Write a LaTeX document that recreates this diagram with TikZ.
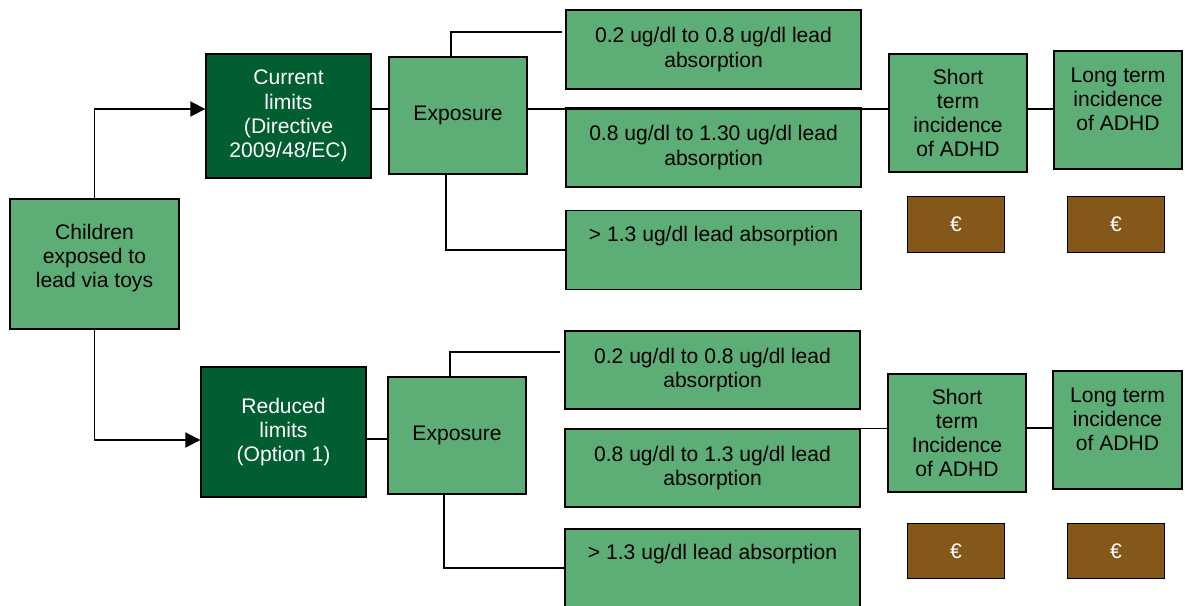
\documentclass[tikz,border=0pt]{standalone}
\usepackage{fontspec}
\setmainfont{Liberation Sans}
\usetikzlibrary{arrows.meta}
\definecolor{leafgreen}{RGB}{93,173,118}
\definecolor{darkgreen}{RGB}{0,94,48}
\definecolor{costbrown}{RGB}{131,88,24}
\tikzset{
  box/.style={draw=black,line width=0.8pt,fill=leafgreen,align=center,
    inner sep=0pt,font=\fontsize{12}{13.8}\selectfont},
  policy/.style={box,fill=darkgreen,text=white},
  cost/.style={box,fill=costbrown,text=white,
    minimum width=1.93cm,minimum height=1.11cm},
  link/.style={line width=0.8pt},
  branch/.style={line width=1.1pt,-{Triangle[length=0.3cm,width=0.3cm]}}
}
\begin{document}
\begin{tikzpicture}[x=0.02cm,y=-0.02cm]
            \useasboundingbox (0,0) rectangle (1185,605);
            \node[box,minimum width=3.38cm,minimum height=2.6cm]
                (child) at (94.5,264) {Children\\exposed to\\lead via toys\\[-0.3cm]\strut};
            \node[policy,minimum width=3.3cm,minimum height=2.48cm]
                (cur) at (288.5,116) {Current\\limits\\(Directive\\2009/48/EC)};
            \node[box,minimum width=2.76cm,minimum height=2.34cm]
                (expA) at (458,115.5) {Exposure};
            \node[box,minimum width=5.9cm,minimum height=1.58cm]
                (a1) at (713.5,49.5) {0.2 ug/dl to 0.8 ug/dl lead\\absorption};
            \node[box,minimum width=5.9cm,minimum height=1.58cm]
                (a2) at (713.5,147.5) {0.8 ug/dl to 1.30 ug/dl lead\\absorption};
            \node[box,minimum width=5.9cm,minimum height=1.58cm]
                (a3) at (713.5,250) {> 1.3 ug/dl lead absorption\\\strut};
            \node[box,minimum width=2.76cm,minimum height=2.36cm]
                (shortA) at (958,113) {Short\\term\\incidence\\of ADHD};
            \node[box,minimum width=2.56cm,minimum height=2.36cm]
                (longA) at (1118,110) {Long term\\incidence\\of ADHD\\[-0.2cm]\strut};
            \node[cost] (eurA1) at (956,224.5) {€};
            \node[cost] (eurA2) at (1116,224.5) {€};
            \node[policy,minimum width=3.3cm,minimum height=2.6cm]
                (red) at (283.5,432) {Reduced\\limits\\(Option 1)};
            \node[box,minimum width=2.76cm,minimum height=2.34cm]
                (expB) at (457,435.5) {Exposure};
            \node[box,minimum width=5.9cm,minimum height=1.56cm]
                (b1) at (712.5,370) {0.2 ug/dl to 0.8 ug/dl lead\\absorption};
            \node[box,minimum width=5.9cm,minimum height=1.56cm]
                (b2) at (712.5,468) {0.8 ug/dl to 1.3 ug/dl lead\\absorption};
            \node[box,minimum width=5.9cm,minimum height=1.56cm]
                (b3) at (712.5,568) {> 1.3 ug/dl lead absorption\\\strut};
            \node[box,minimum width=2.76cm,minimum height=2.36cm]
                (shortB) at (957,433) {Short\\term\\Incidence\\of ADHD};
            \node[box,minimum width=2.58cm,minimum height=2.36cm]
                (longB) at (1117.5,430) {Long term\\incidence\\of ADHD\\[-0.2cm]\strut};
            \node[cost] (eurB1) at (956,551) {€};
            \node[cost] (eurB2) at (1116,551) {€};
            \coordinate (rowA) at (0,109);
            \coordinate (rowB) at (0,439);
            \coordinate (rowC) at (0,428);
            \draw[branch] (child.north) |- ([yshift=0.14cm]cur.west);
            \draw[branch] (child.south) |- ([yshift=-0.16cm]red.west);
            \draw[link] (cur.east |- rowA) -- (expA.west |- rowA);
            \draw[link] (expA.east |- rowA) -- (shortA.west |- rowA);
            \draw[link] (shortA.east |- rowA) -- (longA.west |- rowA);
            \draw[link] ([xshift=-0.14cm]expA.north)
                |- ([xshift=-0.06cm,yshift=0.35cm]a1.west);
            \draw[link] ([xshift=-0.24cm]expA.south) |- (a3.west);
            \draw[link] (red.east |- rowB) -- (expB.west |- rowB);
            \draw[link] ([xshift=-0.24cm]b2.north east) -- (shortB.west |- b2.north);
            \draw[link] (shortB.east |- rowC) -- (longB.west |- rowC);
            \draw[link] ([xshift=-0.14cm]expB.north)
                |- ([xshift=-0.08cm,yshift=0.36cm]b1.west);
            \draw[link] ([xshift=-0.26cm]expB.south) |- (b3.west);
            \end{tikzpicture}
\end{document}
